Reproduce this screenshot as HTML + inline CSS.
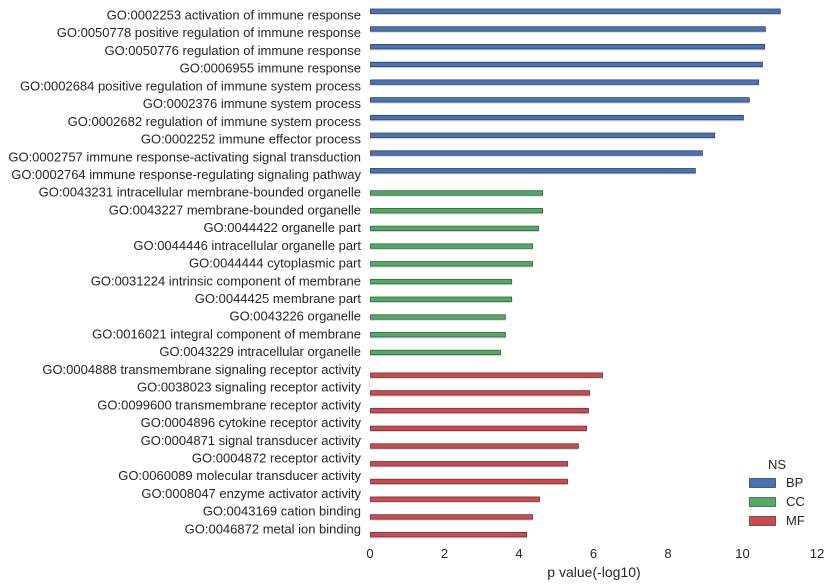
<!DOCTYPE html>
<html><head><meta charset="utf-8">
<style>
html,body{margin:0;padding:0;background:#fff;}
svg{display:block;font-family:"Liberation Sans",Arial,sans-serif;}
</style></head>
<body>
<svg id="chart" width="831" height="587" viewBox="0 0 831 587" xmlns="http://www.w3.org/2000/svg"></svg>
<script>
const terms = [
"GO:0002253 activation of immune response",
"GO:0050778 positive regulation of immune response",
"GO:0050776 regulation of immune response",
"GO:0006955 immune response",
"GO:0002684 positive regulation of immune system process",
"GO:0002376 immune system process",
"GO:0002682 regulation of immune system process",
"GO:0002252 immune effector process",
"GO:0002757 immune response-activating signal transduction",
"GO:0002764 immune response-regulating signaling pathway",
"GO:0043231 intracellular membrane-bounded organelle",
"GO:0043227 membrane-bounded organelle",
"GO:0044422 organelle part",
"GO:0044446 intracellular organelle part",
"GO:0044444 cytoplasmic part",
"GO:0031224 intrinsic component of membrane",
"GO:0044425 membrane part",
"GO:0043226 organelle",
"GO:0016021 integral component of membrane",
"GO:0043229 intracellular organelle",
"GO:0004888 transmembrane signaling receptor activity",
"GO:0038023 signaling receptor activity",
"GO:0099600 transmembrane receptor activity",
"GO:0004896 cytokine receptor activity",
"GO:0004871 signal transducer activity",
"GO:0004872 receptor activity",
"GO:0060089 molecular transducer activity",
"GO:0008047 enzyme activator activity",
"GO:0043169 cation binding",
"GO:0046872 metal ion binding"
];
const namespaces = ["BP","BP","BP","BP","BP","BP","BP","BP","BP","BP",
"CC","CC","CC","CC","CC","CC","CC","CC","CC","CC",
"MF","MF","MF","MF","MF","MF","MF","MF","MF","MF"];
const pvalues = [11.0,10.6,10.58,10.52,10.42,10.17,10.01,9.24,8.91,8.72,
4.62,4.62,4.51,4.35,4.35,3.79,3.79,3.62,3.62,3.49,
6.23,5.88,5.85,5.8,5.58,5.29,5.29,4.54,4.35,4.19];
const xTicks = [0,2,4,6,8,10,12];
const legendKeys = ["BP","CC","MF"];

const fill = {BP:"#4c72b0",CC:"#55a868",MF:"#c44e52"};
const edge = {BP:"#2d4470",CC:"#33653e",MF:"#7a2f32"};
const hueOffset = {BP:-3.5,CC:1,MF:6};
const x0=370, x1=817, xMax=12;
const xs = v => x0 + v/xMax*(x1-x0);
const labelY = i => 15 + i*17.72;
const NS="http://www.w3.org/2000/svg";
const svg=document.getElementById('chart');
function mk(t,a){const e=document.createElementNS(NS,t);for(const k in a)e.setAttribute(k,a[k]);svg.appendChild(e);return e;}

terms.forEach((t,i)=>{
  const lbl=mk('text',{x:361,y:labelY(i)+4.5,'text-anchor':'end','font-size':13,fill:'#262626'});
  lbl.textContent=t;
  
  
  const ns=namespaces[i];
  const cy=labelY(i)+hueOffset[ns];
  const shadow=mk('rect',{x:x0,y:cy-2.5,width:xs(pvalues[i])-x0+1,height:6,fill:'#d8d8d8'});
  
  
  const bar=mk('rect',{x:x0+0.5,y:cy-2.5,width:xs(pvalues[i])-x0,height:4.5,fill:fill[ns],stroke:edge[ns],'stroke-width':0.8});
  
  
});

xTicks.forEach(v=>{
  const t=mk('text',{x:xs(v),y:558,'text-anchor':'middle','font-size':13,fill:'#262626'});
  t.textContent=v;
  
  
});
const xt=mk('text',{x:594,y:577,'text-anchor':'middle','font-size':14,fill:'#262626'});
xt.textContent='p value(-log10)';



const lt=mk('text',{x:777,y:469,'text-anchor':'middle','font-size':13,fill:'#262626'});
lt.textContent='NS';


legendKeys.forEach((k,j)=>{
  const y=478+j*19;
  const p=mk('rect',{x:749.5,y:y+0.5,width:26,height:9,fill:fill[k],stroke:edge[k],'stroke-width':0.8});
  
  
  const l=mk('text',{x:786,y:y+9,'font-size':13,fill:'#262626'});
  l.textContent=k;
  
  
});
</script>
</body></html>
